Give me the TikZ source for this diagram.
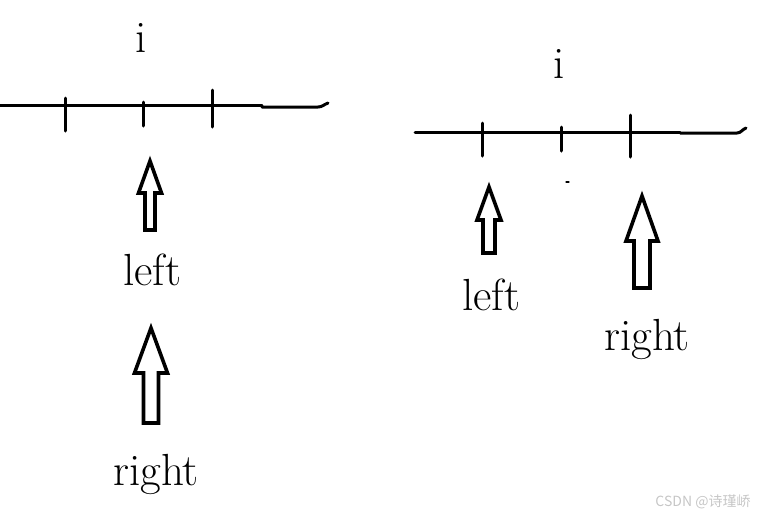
\documentclass[tikz,border=0pt]{standalone}
\usepackage{fontspec}
\newfontfamily\cjk{Noto Sans CJK SC}
\begin{document}
\begin{tikzpicture}[x=1pt,y=-1pt,line width=3pt,line cap=round,line join=miter,
  lbl/.style={anchor=base,inner sep=0pt,font=\fontsize{45}{50}\selectfont}]
\useasboundingbox (0,0) rectangle (760,515);
% left sketch
\draw (0,105)--(262,105);\draw (262,107)--(318,107) to[out=0,in=200] (328,103);
\foreach \x/\a/\b in {65/98/131,143/102/126,212/90/127}{\draw (\x,\a)--(\x,\b);}
\node[lbl] (il) at (141,52) {i};
\node[lbl] (leftl) at (152,285) {left};\node[lbl] (rightl) at (156,485) {right};
% right sketch
\draw (415,132)--(680,132);\draw (680,133)--(737,133) to[out=0,in=200] (746,128);
\foreach \x/\a/\b in {482/123/156,561/127/151,630/115/157}{\draw (\x,\a)--(\x,\b);}
\draw[line width=1.2pt] (566,182)--(569,182);
\node[lbl] (ir) at (559,78) {i};
\node[lbl] (leftr) at (491,310) {left};\node[lbl] (rightr) at (647,350) {right};
% hollow arrows
\foreach \c/\t/\hb/\hh/\hs/\b in {150/161/193/11.5/5/230,151/328/373/16.5/7.5/423,489/187/220/12/6/253,642/196/241/16/8/288}
  {\draw[line width=3.6pt] (\c,\t)--(\c+\hh,\hb)--(\c+\hs,\hb)--(\c+\hs,\b)--(\c-\hs,\b)--(\c-\hs,\hb)--(\c-\hh,\hb)--cycle;}
\node[anchor=base,inner sep=0pt,text=gray!45,font=\cjk\fontsize{14}{16}\selectfont] (mark) at (703,506) {CSDN @诗瑾峤};
\end{tikzpicture}
\end{document}
